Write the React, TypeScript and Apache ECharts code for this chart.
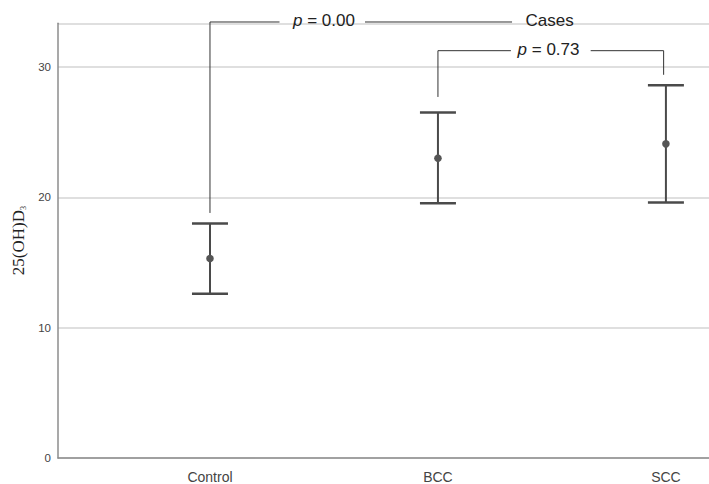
import React, { useEffect, useRef } from "react";
import * as echarts from "echarts";

const categories = ["Control", "BCC", "SCC"];
const means = [15.3, 23.0, 24.1];
const lower = [12.6, 19.55, 19.6];
const upper = [18.0, 26.5, 28.6];
const yTicks = [0, 10, 20, 30];

// annotation brackets in data coordinates
const bracket1 = { x0: 1, yStart: 18.8, yTop: 33.45, label: "p = 0.00", labelX: 1.5, gapL: 1.305, gapR: 1.68, endX: 2.325, caseLabel: "Cases", caseX: 2.49 };
const bracket2 = { x0: 2, x1: 2.99, yStart: 27.7, yTop: 31.25, yEnd: 29.4, label: "p = 0.73", labelX: 2.485, gapL: 2.32, gapR: 2.67 };

export default function App() {
  const ref = useRef<HTMLDivElement>(null);
  useEffect(() => {
    if (!ref.current) return;
    const chart = echarts.init(ref.current, null, { renderer: "svg" });
    const lineStyle = { stroke: "#333", lineWidth: 1 };
    const pText = (txt: string, pos: number[]) => ({
      type: "text",
      x: pos[0],
      y: pos[1],
      style: {
        text: "{i|p} = " + txt.replace("p = ", ""),
        rich: { i: { fontStyle: "italic", fontSize: 17, fontFamily: "Liberation Sans", fill: "#222" } },
        fontSize: 17,
        fontFamily: "Liberation Sans",
        fill: "#222",
        align: "center",
        verticalAlign: "middle",
      },
    });
    chart.setOption({
      animation: false,
      grid: { left: 58, right: 0, top: 23.3, bottom: 22.5 },
      xAxis: {
        type: "value",
        min: 0.3333,
        max: 3.189,
        axisLine: { show: true, lineStyle: { color: "#8c8c8c", width: 1.5 } },
        axisTick: { show: false },
        splitLine: { show: false },
        axisLabel: {
          customValues: [1, 2, 3],
          formatter: (v: number) => categories[Math.round(v) - 1] ?? "",
          color: "#444",
          fontSize: 14,
          fontFamily: "Liberation Sans",
          margin: 12,
        },
      },
      yAxis: {
        type: "value",
        min: 0,
        max: 33.35,
        name: "{a|25(OH)D}{s|3}",
        nameLocation: "middle",
        nameGap: 31,
        nameTextStyle: {
          rich: {
            a: { fontFamily: "Liberation Serif", fontSize: 17, color: "#222" },
            s: { fontFamily: "Liberation Serif", fontSize: 8, color: "#222", verticalAlign: "bottom", padding: [6, 0, 0, 0] },
          },
        },
        axisLine: { show: true, lineStyle: { color: "#8c8c8c", width: 1.5 } },
        axisTick: { show: false },
        axisLabel: {
          customValues: yTicks,
          color: "#444",
          fontSize: 11.5,
          fontFamily: "Liberation Sans",
          margin: 7,
        },
        splitLine: { show: true, lineStyle: { color: "#d4d4d4", width: 1.5 } },
        interval: 10,
      },
      series: [
        {
          type: "custom",
          clip: false,
          data: categories.map((_, i) => [i + 1, lower[i], upper[i], means[i]]),
          renderItem: (params: any, api: any) => {
            const x = api.value(0);
            const lo = api.coord([x, api.value(1)]);
            const hi = api.coord([x, api.value(2)]);
            const m = api.coord([x, api.value(3)]);
            const hw = 18;
            const st = { stroke: "#4a4a4a", lineWidth: 2 };
            return {
              type: "group",
              children: [
                { type: "line", shape: { x1: lo[0], y1: lo[1], x2: hi[0], y2: hi[1] }, style: st },
                { type: "line", shape: { x1: hi[0] - hw, y1: hi[1], x2: hi[0] + hw, y2: hi[1] }, style: { stroke: "#4a4a4a", lineWidth: 2.5 } },
                { type: "line", shape: { x1: lo[0] - hw, y1: lo[1], x2: lo[0] + hw, y2: lo[1] }, style: { stroke: "#4a4a4a", lineWidth: 2.5 } },
                { type: "circle", shape: { cx: m[0], cy: m[1], r: 3.8 }, style: { fill: "#555" } },
              ],
            };
          },
        },
        {
          type: "custom",
          clip: false,
          data: [[0]],
          renderItem: (params: any, api: any) => {
            const b1 = bracket1;
            const b2 = bracket2;
            const a = api.coord([b1.x0, b1.yStart]);
            const b = api.coord([b1.x0, b1.yTop]);
            const c = api.coord([b1.gapL, b1.yTop]);
            const d = api.coord([b1.gapR, b1.yTop]);
            const e = api.coord([b1.endX, b1.yTop]);
            const t1 = api.coord([b1.labelX, b1.yTop]);
            const tc = api.coord([b1.caseX, b1.yTop]);
            const f = api.coord([b2.x0, b2.yStart]);
            const g = api.coord([b2.x0, b2.yTop]);
            const h = api.coord([b2.gapL, b2.yTop]);
            const k = api.coord([b2.gapR, b2.yTop]);
            const l = api.coord([b2.x1, b2.yTop]);
            const m = api.coord([b2.x1, b2.yEnd]);
            const t2 = api.coord([b2.labelX, b2.yTop]);
            return {
              type: "group",
              children: [
                { type: "polyline", shape: { points: [a, b, c] }, style: { ...lineStyle, fill: null } },
                { type: "line", shape: { x1: d[0], y1: d[1], x2: e[0], y2: e[1] }, style: lineStyle },
                pText(b1.label, [t1[0], t1[1] - 1]),
                {
                  type: "text",
                  x: tc[0],
                  y: tc[1] - 1,
                  style: { text: b1.caseLabel, fontSize: 17, fontFamily: "Liberation Sans", fill: "#222", align: "center", verticalAlign: "middle" },
                },
                { type: "polyline", shape: { points: [f, g, h] }, style: { ...lineStyle, fill: null } },
                { type: "polyline", shape: { points: [k, l, m] }, style: { ...lineStyle, fill: null } },
                pText(b2.label, [t2[0], t2[1] - 1]),
              ],
            };
          },
        },
      ],
    });
    return () => chart.dispose();
  }, []);
  return <div ref={ref} style={{ position: "absolute", left: 0, top: 0, width: 709, height: 484, background: "#fff" }} />;
}
